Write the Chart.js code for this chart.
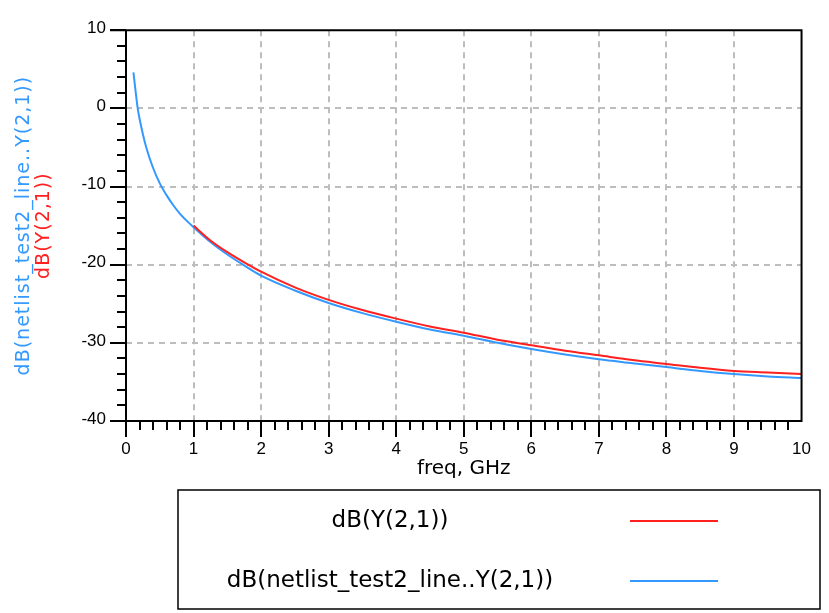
<!DOCTYPE html>
<html lang="en">
<head>
  <meta charset="utf-8">
  <title>dB(Y(2,1)) vs freq</title>
  <script src="https://cdn.jsdelivr.net/npm/chart.js@4.4.0/dist/chart.umd.min.js"></script>
  <style>
    body { margin: 0; background: #fff; }
    #wrap { width: 829px; height: 613px; position: relative; }
  </style>
</head>
<body>
  <div id="wrap"><canvas id="plot"></canvas></div>

<script>
  // values (freq in GHz, value in dB)
  var blueFreq = [0.11, 0.13, 0.15, 0.17, 0.2, 0.25, 0.3, 0.4, 0.5, 0.6, 0.7, 0.8, 0.9, 1.0,
                  1.25, 1.5, 1.75, 2.0, 2.5, 3.0, 3.5, 4.0, 4.5, 5.0, 5.5, 6.0, 6.5, 7.0, 7.5, 8.0, 8.5, 9.0, 9.5, 10.0];
  var blueDb   = [4.6, 3.1, 1.6, 0.2, -1.3, -3.3, -5.0, -7.6, -9.6, -11.1, -12.4, -13.5, -14.4, -15.2,
                  -17.1, -18.7, -20.1, -21.4, -23.3, -24.9, -26.2, -27.3, -28.3, -29.1, -30.0, -30.8, -31.5, -32.1, -32.6, -33.1, -33.6, -34.0, -34.3, -34.5];
  var redFreq  = [1.0, 1.25, 1.5, 1.75, 2.0, 2.5, 3.0, 3.5, 4.0, 4.5, 5.0, 5.5, 6.0, 6.5, 7.0, 7.5, 8.0, 8.5, 9.0, 9.5, 10.0];
  var redDb    = [-15.0, -16.9, -18.4, -19.7, -20.9, -22.9, -24.5, -25.8, -26.9, -27.9, -28.7, -29.6, -30.3, -31.0, -31.6, -32.2, -32.7, -33.2, -33.6, -33.8, -34.0];

  var seriesNames  = ["dB(Y(2,1))", "dB(netlist_test2_line..Y(2,1))"];
  var seriesColors = ["#ff2020", "#3399ff"];
  var xTitle = "freq, GHz";

  function pairs(xs, ys) {
    return xs.map(function(x, i) { return {x: x, y: ys[i]}; });
  }

  function isMultiple(v, step) {
    return Math.abs(v / step - Math.round(v / step)) < 1e-6;
  }

  // frame, tick marks, axis titles and the boxed legend
  var adsDecor = {
    id: 'adsDecor',
    afterDraw: function(chart) {
      var ctx = chart.ctx;
      var a = chart.chartArea;
      var xs = chart.scales.x, ys = chart.scales.y;
      ctx.save();
      ctx.strokeStyle = '#000';
      ctx.lineWidth = 2;
      ctx.beginPath();
      // minor / major tick marks
      xs.ticks.forEach(function(t) {
        var px = Math.round(xs.getPixelForValue(t.value));
        var len = isMultiple(t.value, 1) ? 16 : 9;
        if (t.value >= 10 - 1e-6) return;
        ctx.moveTo(px, a.bottom);
        ctx.lineTo(px, a.bottom + len);
      });
      ys.ticks.forEach(function(t) {
        var py = Math.round(ys.getPixelForValue(t.value));
        var len = isMultiple(t.value, 10) ? 16 : 9;
        ctx.moveTo(a.left, py);
        ctx.lineTo(a.left - len, py);
      });
      // box round the plot
      ctx.moveTo(a.left - 16, a.top);
      ctx.lineTo(a.right, a.top);
      ctx.lineTo(a.right, a.bottom);
      ctx.lineTo(a.left - 16, a.bottom);
      ctx.moveTo(a.left, a.top);
      ctx.lineTo(a.left, a.bottom);
      ctx.stroke();

      // x title
      ctx.fillStyle = '#000';
      ctx.font = "20px 'DejaVu Sans'";
      ctx.textAlign = 'center';
      ctx.textBaseline = 'middle';
      ctx.fillText(xTitle, (a.left + a.right) / 2, 469);

      // y title, two coloured lines
      var cy = (a.top + a.bottom) / 2;
      ctx.font = "19px 'DejaVu Sans'";
      ctx.letterSpacing = '1px';
      ctx.save();
      ctx.translate(24, cy);
      ctx.rotate(-Math.PI / 2);
      ctx.fillStyle = seriesColors[1];
      ctx.fillText(seriesNames[1], 0, 0);
      ctx.restore();
      ctx.save();
      ctx.translate(44, cy);
      ctx.rotate(-Math.PI / 2);
      ctx.fillStyle = seriesColors[0];
      ctx.fillText(seriesNames[0], 0, 0);
      ctx.restore();
      ctx.letterSpacing = '0px';

      // legend box
      var bx = 178, by = 490, bw = 820 - 178, bh = 119;
      ctx.lineWidth = 1.5;
      ctx.strokeStyle = '#000';
      ctx.strokeRect(bx, by, bw, bh);
      ctx.font = "23px 'DejaVu Sans'";
      chart.data.datasets.forEach(function(ds, i) {
        var rowY = by + 31 + i * 60;
        ctx.fillStyle = '#000';
        ctx.textAlign = 'center';
        ctx.fillText(ds.label, 390, rowY);
        ctx.strokeStyle = ds.borderColor;
        ctx.lineWidth = 2;
        ctx.beginPath();
        ctx.moveTo(630, rowY);
        ctx.lineTo(718, rowY);
        ctx.stroke();
      });
      ctx.restore();
    }
  };

  var gridColor = '#bdbdbd';
  var tickFont = { family: "'Liberation Sans'", size: 17 };

  var plot = new Chart(document.getElementById('plot'), {
    type: 'line',
    data: {
      datasets: [{
        label: seriesNames[0],
        data: pairs(redFreq, redDb),
        borderColor: seriesColors[0],
        borderWidth: 2,
        pointRadius: 0,
        cubicInterpolationMode: 'monotone',
        fill: false
      }, {
        label: seriesNames[1],
        data: pairs(blueFreq, blueDb),
        borderColor: seriesColors[1],
        borderWidth: 2,
        pointRadius: 0,
        cubicInterpolationMode: 'monotone',
        fill: false
      }]
    },
    options: {
      responsive: true,
      maintainAspectRatio: false,
      animation: false,
      layout: { padding: { top: 21, right: 9, left: 0, bottom: 0 } },
      plugins: {
        legend: { display: false },
        tooltip: { enabled: false }
      },
      scales: {
        x: {
          type: 'linear',
          min: 0, max: 10,
          afterFit: function(s) { s.height = 192; },
          border: { display: false, dash: [6, 5] },
          grid: {
            drawTicks: false,
            lineWidth: 2,
            color: function(c) {
              var v = c.tick ? c.tick.value : 0;
              return (isMultiple(v, 1) && v > 0.5 && v < 9.5) ? gridColor : 'rgba(0,0,0,0)';
            }
          },
          ticks: {
            stepSize: 0.2,
            maxTicksLimit: 100,
            autoSkip: false,
            maxRotation: 0,
            padding: 18,
            color: '#000',
            font: tickFont,
            callback: function(v) { return isMultiple(v, 1) ? String(Math.round(v)) : ''; }
          }
        },
        y: {
          min: -40, max: 10,
          afterFit: function(s) { s.width = 126; },
          border: { display: false, dash: [6, 5] },
          grid: {
            drawTicks: false,
            lineWidth: 2,
            color: function(c) {
              var v = c.tick ? c.tick.value : 0;
              return (isMultiple(v, 10) && v > -39 && v < 9) ? gridColor : 'rgba(0,0,0,0)';
            }
          },
          ticks: {
            stepSize: 2,
            maxTicksLimit: 100,
            autoSkip: false,
            padding: 20,
            labelOffset: -2,
            color: '#000',
            font: tickFont,
            callback: function(v) { return isMultiple(v, 10) ? String(Math.round(v)) : ''; }
          }
        }
      }
    },
    plugins: [adsDecor]
  });
</script>
</body>
</html>
